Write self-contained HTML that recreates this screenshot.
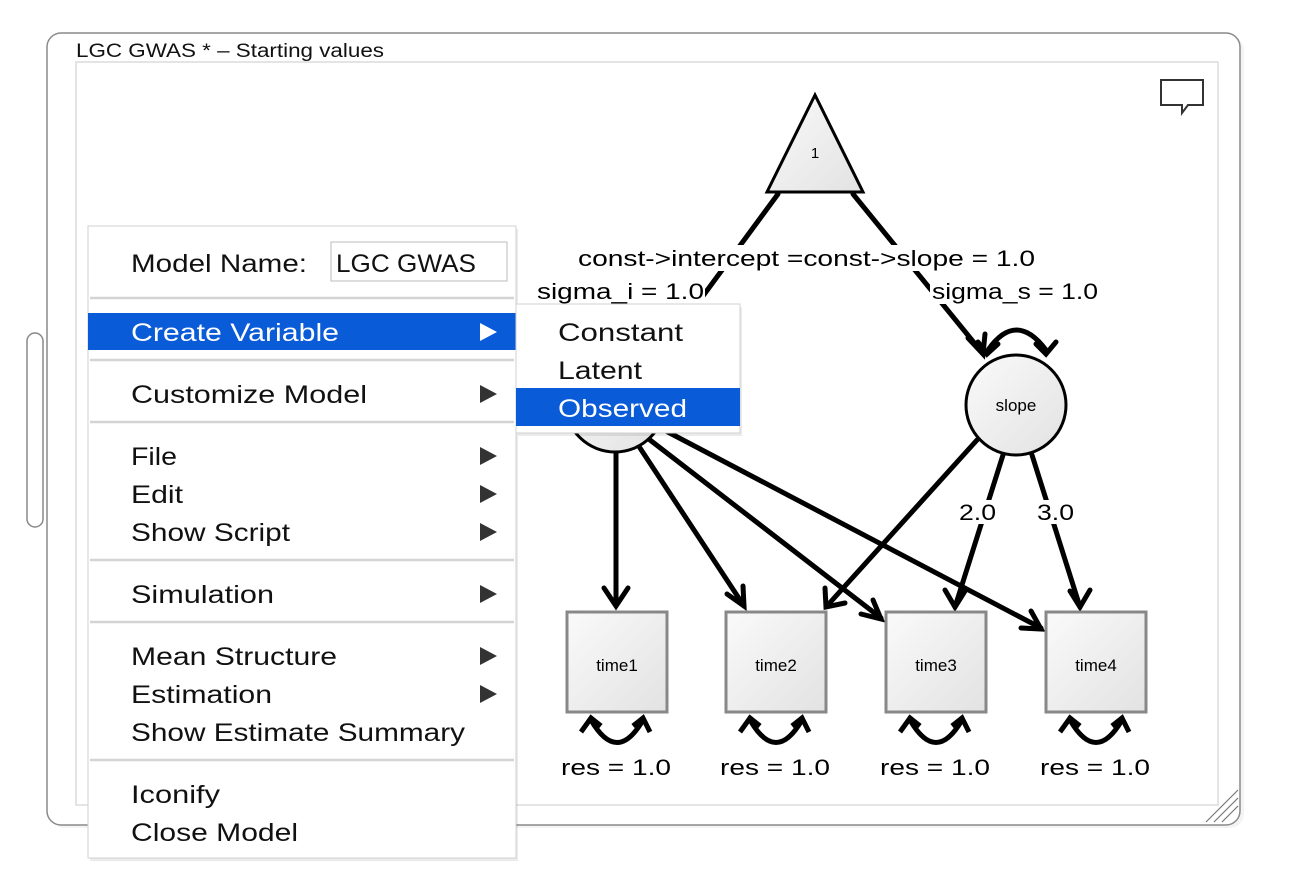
<!DOCTYPE html>
<html><head><meta charset="utf-8"><style>
html,body{margin:0;padding:0;background:#fff;width:1296px;height:886px;overflow:hidden}
svg text{font-family:"Liberation Sans",sans-serif}
</style></head><body>
<svg width="1296" height="886" viewBox="0 0 1296 886" xmlns="http://www.w3.org/2000/svg">
<defs>
<linearGradient id="g" x1="0" y1="0" x2="1" y2="1"><stop offset="0" stop-color="#fafafa"/><stop offset="1" stop-color="#e2e2e2"/></linearGradient>
</defs>
<!-- window -->
<rect x="50" y="36" width="1194" height="792" rx="14" fill="#ececec" opacity="0.6"/>
<rect x="47" y="33" width="1193" height="792" rx="14" fill="#fff" stroke="#8a8a8a" stroke-width="1.5"/>
<rect x="76" y="62" width="1142" height="743" fill="#fff" stroke="#dcdcdc" stroke-width="1.5"/>
<text x="76" y="57" font-size="19" fill="#111" textLength="308" lengthAdjust="spacingAndGlyphs">LGC GWAS * – Starting values</text>
<rect x="27" y="333" width="16" height="194" rx="8" fill="#fff" stroke="#888" stroke-width="1.5"/>
<g stroke="#777" stroke-width="1.2"><line x1="1206" y1="822" x2="1238" y2="790"/><line x1="1214" y1="822" x2="1238" y2="798"/><line x1="1222" y1="822" x2="1238" y2="806"/></g>
<path d="M1161,80 h42 v25 h-15 l-6,8 v-8 h-21 z" fill="#fff" stroke="#333" stroke-width="2"/>

<g stroke="#000" stroke-width="5" fill="none" stroke-linecap="round">
<line x1="778" y1="194" x2="700" y2="300"/>
<line x1="853" y1="194" x2="980" y2="350"/>
<polyline points="968,338 983,354 985,334" stroke-linejoin="miter"/>
<path d="M988,350 Q1016,310 1046,350"/>
<polyline points="978,342 987,354 998,344"/>
<polyline points="1036,344 1046,354 1056,342"/>
<line x1="616" y1="452" x2="616" y2="605"/>
<polyline points="604,588 616,606 628,588"/>
<line x1="640" y1="448" x2="744" y2="606"/>
<polyline points="727,594 744,606 743,586"/>
<line x1="650" y1="440" x2="881" y2="618"/>
<polyline points="861,614 881,619 873,600"/>
<line x1="664" y1="430" x2="1041" y2="628"/>
<polyline points="1021,628 1041,629 1031,611"/>
<line x1="977" y1="440" x2="826" y2="607"/>
<polyline points="825,588 826,607 845,603"/>
<line x1="1003" y1="455" x2="955" y2="607"/>
<polyline points="945,590 955,607 965,591"/>
<line x1="1032" y1="455" x2="1080" y2="607"/>
<polyline points="1070,591 1080,607 1090,590"/>
</g>
<rect x="955" y="500" width="44" height="24" fill="#fff"/>
<rect x="1033" y="500" width="44" height="24" fill="#fff"/>
<rect x="577" y="245" width="460" height="26" fill="#fff"/>
<rect x="930" y="278" width="170" height="26" fill="#fff"/>
<rect x="535" y="278" width="170" height="26" fill="#fff"/>
<g font-size="22" fill="#000">
<text x="959" y="520" textLength="37" lengthAdjust="spacingAndGlyphs">2.0</text>
<text x="1037" y="520" textLength="37" lengthAdjust="spacingAndGlyphs">3.0</text>
<text x="578" y="266" textLength="457" lengthAdjust="spacingAndGlyphs">const-&gt;intercept =const-&gt;slope = 1.0</text>
<text x="932" y="299" textLength="166" lengthAdjust="spacingAndGlyphs">sigma_s = 1.0</text>
<text x="537" y="299" textLength="167" lengthAdjust="spacingAndGlyphs">sigma_i = 1.0</text>
</g>
<polygon points="815,95 767,192 863,192" fill="url(#g)" stroke="#000" stroke-width="3"/>
<text x="815" y="158" font-size="15" text-anchor="middle">1</text>
<circle cx="615" cy="402" r="50" fill="url(#g)" stroke="#000" stroke-width="3"/>
<circle cx="1016" cy="405" r="50" fill="url(#g)" stroke="#000" stroke-width="3"/>
<text x="1016" y="411" font-size="17" text-anchor="middle">slope</text>
<g font-size="17" text-anchor="middle">
<rect x="567" y="612" width="100" height="100" fill="url(#g)" stroke="#888" stroke-width="3"/><text x="617" y="671">time1</text>
<rect x="726" y="612" width="100" height="100" fill="url(#g)" stroke="#888" stroke-width="3"/><text x="776" y="671">time2</text>
<rect x="886" y="612" width="100" height="100" fill="url(#g)" stroke="#888" stroke-width="3"/><text x="936" y="671">time3</text>
<rect x="1046" y="612" width="100" height="100" fill="url(#g)" stroke="#888" stroke-width="3"/><text x="1096" y="671">time4</text>
</g>
<g stroke="#000" stroke-width="5" fill="none">
<g id="loop"><path d="M591,720 Q617,765 643,720"/><polyline points="581,732 591,718 601,726"/><polyline points="633,726 643,718 650,732"/></g>
<use href="#loop" x="159"/><use href="#loop" x="319"/><use href="#loop" x="479"/>
</g>
<g font-size="22">
<text x="561" y="775" textLength="110" lengthAdjust="spacingAndGlyphs">res = 1.0</text>
<text x="720" y="775" textLength="110" lengthAdjust="spacingAndGlyphs">res = 1.0</text>
<text x="880" y="775" textLength="110" lengthAdjust="spacingAndGlyphs">res = 1.0</text>
<text x="1040" y="775" textLength="110" lengthAdjust="spacingAndGlyphs">res = 1.0</text>
</g>
<!-- menu -->
<rect x="90" y="229" width="428" height="632" fill="#000" opacity="0.08"/>
<rect x="88" y="226" width="428" height="632" fill="#fff" stroke="#d0d0d0"/>
<rect x="331" y="242" width="176" height="39" fill="#fff" stroke="#bbb"/>
<g stroke="#d4d4d4" stroke-width="2.5">
<line x1="90" y1="298" x2="514" y2="298"/><line x1="90" y1="360" x2="514" y2="360"/><line x1="90" y1="422" x2="514" y2="422"/>
<line x1="90" y1="560" x2="514" y2="560"/><line x1="90" y1="622" x2="514" y2="622"/><line x1="90" y1="760" x2="514" y2="760"/>
</g>
<rect x="88" y="313" width="428" height="37" fill="#0a5bd8"/>
<g font-size="25" fill="#111" lengthAdjust="spacingAndGlyphs">
<text x="131" y="272" textLength="176" lengthAdjust="spacingAndGlyphs">Model Name:</text>
<text x="336" y="272" textLength="140" lengthAdjust="spacingAndGlyphs">LGC GWAS</text>
<text x="131" y="341" fill="#fff" textLength="208" lengthAdjust="spacingAndGlyphs">Create Variable</text>
<text x="131" y="403" textLength="236" lengthAdjust="spacingAndGlyphs">Customize Model</text>
<text x="131" y="465" textLength="46" lengthAdjust="spacingAndGlyphs">File</text>
<text x="131" y="503" textLength="52" lengthAdjust="spacingAndGlyphs">Edit</text>
<text x="131" y="541" textLength="159" lengthAdjust="spacingAndGlyphs">Show Script</text>
<text x="131" y="603" textLength="143" lengthAdjust="spacingAndGlyphs">Simulation</text>
<text x="131" y="665" textLength="206" lengthAdjust="spacingAndGlyphs">Mean Structure</text>
<text x="131" y="703" textLength="141" lengthAdjust="spacingAndGlyphs">Estimation</text>
<text x="131" y="741" textLength="334" lengthAdjust="spacingAndGlyphs">Show Estimate Summary</text>
<text x="131" y="803" textLength="89" lengthAdjust="spacingAndGlyphs">Iconify</text>
<text x="131" y="841" textLength="167" lengthAdjust="spacingAndGlyphs">Close Model</text>
</g>
<g fill="#333">
<polygon points="480,323 497,332 480,341" fill="#fff"/>
<polygon points="480,385 497,394 480,403"/>
<polygon points="480,447 497,456 480,465"/>
<polygon points="480,485 497,494 480,503"/>
<polygon points="480,523 497,532 480,541"/>
<polygon points="480,585 497,594 480,603"/>
<polygon points="480,647 497,656 480,665"/>
<polygon points="480,685 497,694 480,703"/>
</g>
<rect x="518" y="307" width="224" height="129" fill="#000" opacity="0.08"/>
<rect x="516" y="304" width="224" height="129" fill="#fff" stroke="#d0d0d0"/>
<rect x="516" y="388" width="224" height="38" fill="#0a5bd8"/>
<g font-size="25" fill="#111">
<text x="558" y="341" textLength="125" lengthAdjust="spacingAndGlyphs">Constant</text>
<text x="558" y="379" textLength="84" lengthAdjust="spacingAndGlyphs">Latent</text>
<text x="558" y="417" fill="#fff" textLength="129" lengthAdjust="spacingAndGlyphs">Observed</text>
</g>
</svg>
</body></html>
